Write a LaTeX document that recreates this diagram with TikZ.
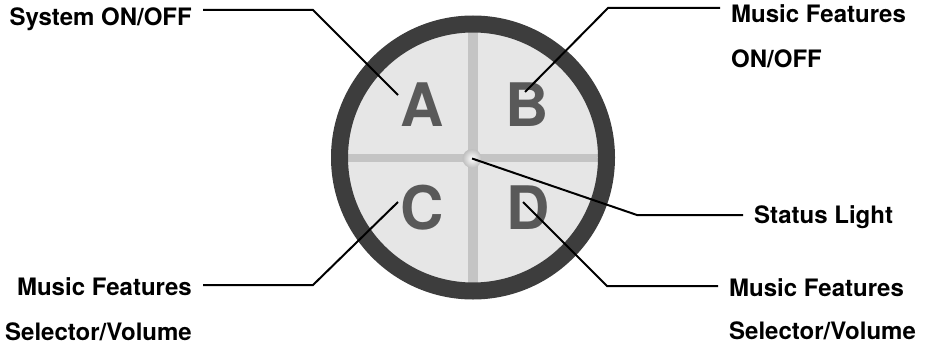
\documentclass[tikz,border=0pt]{standalone}
\usepackage{fontspec}
\setmainfont{TeX Gyre Heros}
\usepackage{tikz}
\usetikzlibrary{positioning,calc}

\definecolor{ringgray}{HTML}{3D3D3D}
\definecolor{facegray}{HTML}{E6E6E6}
\definecolor{bargray}{HTML}{C4C4C4}
\definecolor{lettergray}{HTML}{595959}

\begin{document}
\begin{tikzpicture}[x=1pt, y=-1pt,
  lbl/.style={font=\fontsize{24}{24}\selectfont\bfseries, inner xsep=11pt, inner ysep=0pt},
  letter/.style={font=\fontsize{60}{60}\selectfont\bfseries, text=lettergray, inner sep=0pt},
  bar/.style={line width=10pt, draw=bargray},
  leader/.style={line width=2pt, black}
]
\useasboundingbox (0,0) rectangle (931,345);

% the button
\coordinate (ctr) at (473,157.5);
\fill[facegray] (ctr) circle (134);
\draw[bar] ($(ctr)+(0,-126)$) -- ($(ctr)+(0,126)$);
\draw[bar, line width=8pt] ($(ctr)+(-126,0.5)$) -- ($(ctr)+(126,0.5)$);
\draw[line width=17pt, draw=ringgray] (ctr) circle (133.5);
\node[circle, minimum size=19pt, inner sep=0pt, inner color=white, outer color=black!25] (dot) at (472,158.5) {};

\node[letter] (A) at (422,105) {A};
\node[letter] (B) at (527,105) {B};
\node[letter] (C) at (422,208) {C};
\node[letter] (D) at (528,208) {D};

% labels
\node[lbl, anchor=base east] (sys) at (203,26) {System ON/OFF};
\node[lbl, anchor=base west] (mfB) at (720,23) {Music Features};
\node[lbl, anchor=base west] (onB) at ([yshift=-44pt]mfB.base west) {ON/OFF};
\node[lbl, anchor=base west] (status) at (743,223.5) {Status Light};
\node[lbl, anchor=base east] (mfC) at (203,295) {Music Features};
\node[lbl, anchor=base east] (selC) at ([yshift=-45pt]mfC.base east) {Selector/Volume};
\node[lbl, anchor=base west] (mfD) at (718,296) {Music Features};
\node[lbl, anchor=base west] (selD) at ([yshift=-43pt]mfD.base west) {Selector/Volume};

\coordinate (tipA) at (398,95);
\coordinate (tipB) at (525,92);
\coordinate (tipC) at (398,202);
\coordinate (tipD) at (523,202);
\coordinate (bendA) at (313,10);
\coordinate (bendB) at (608,8);
\coordinate (bendS) at (637,215);
\coordinate (bendC) at (313,285);
\coordinate (bendD) at (607,286);

\draw[leader] (sys.east |- bendA) -- (bendA) -- (tipA);
\draw[leader] (tipB) -- (bendB) -- (mfB.west |- bendB);
\draw[leader] (dot.center) -- (bendS) -- (status.west |- bendS);
\draw[leader] (tipC) -- (bendC) -- (mfC.east |- bendC);
\draw[leader] (tipD) -- (bendD) -- (mfD.west |- bendD);
\end{tikzpicture}
\end{document}
